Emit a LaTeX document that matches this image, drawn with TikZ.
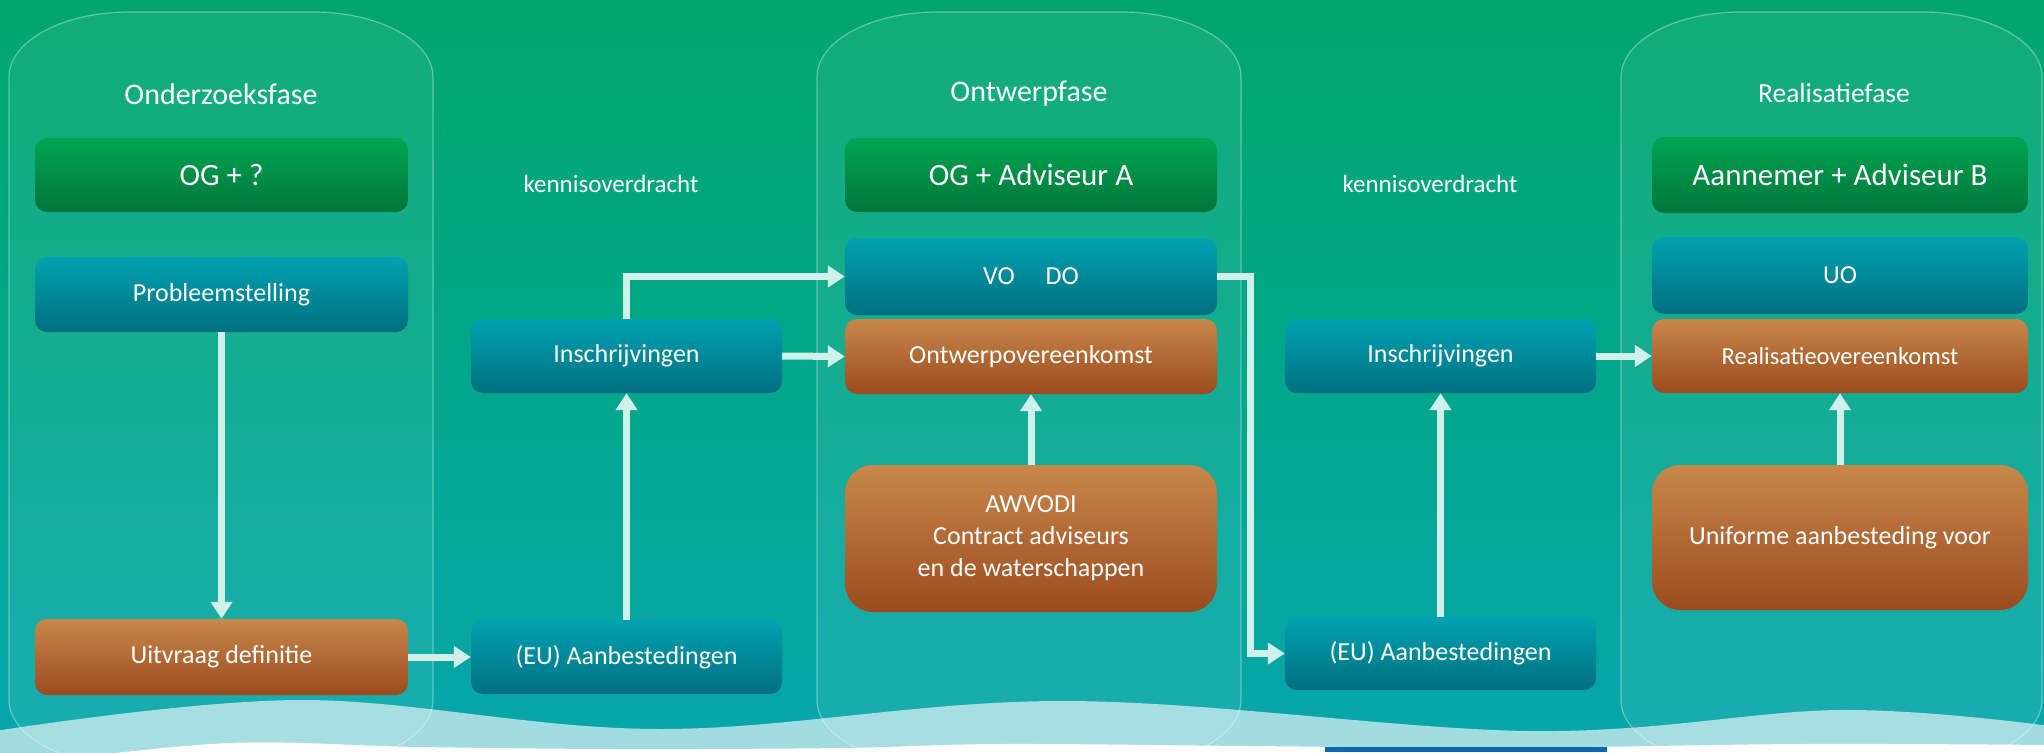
\documentclass[tikz,border=0pt]{standalone}
\usepackage{fontspec}
\setmainfont{Carlito}
\usetikzlibrary{arrows.meta}
\definecolor{bgtop}{RGB}{0,166,108}
\definecolor{bgmid}{RGB}{0,164,136}
\definecolor{bgbot}{RGB}{8,166,172}
\definecolor{grtop}{RGB}{0,165,82}
\definecolor{grbot}{RGB}{0,118,58}
\definecolor{bltop}{RGB}{0,162,178}
\definecolor{blbot}{RGB}{0,112,128}
\definecolor{ortop}{RGB}{200,135,75}
\definecolor{orbot}{RGB}{155,75,30}
\definecolor{arrowc}{RGB}{208,240,234}
\definecolor{wavec}{RGB}{160,220,224}
\definecolor{stripc}{RGB}{10,104,178}
\newcommand\phasepanel[4]{%
  \path[panelbg] (#1,{#2+65}) .. controls (#1,{#2+29}) and ({#1+54},#2) .. ({#1+120},#2)
    -- ({#3-120},#2) .. controls ({#3-54},#2) and (#3,{#2+29}) .. (#3,{#2+65})
    -- (#3,{#4-65}) .. controls (#3,{#4-29}) and ({#3-54},#4) .. ({#3-120},#4)
    -- ({#1+120},#4) .. controls ({#1+54},#4) and (#1,{#4-29}) .. (#1,{#4-65}) -- cycle;}
\tikzset{
  panelbg/.style={draw=white, draw opacity=0.35, fill=white, fill opacity=0.07, line width=1.2pt},
  box/.style={rounded corners=12pt, text=white, font=\fontsize{26}{32}\selectfont, inner sep=0pt, align=center},
  gbox/.style={box, top color=grtop, bottom color=grbot, font=\fontsize{31}{36}\selectfont},
  bbox/.style={box, top color=bltop, bottom color=blbot},
  obox/.style={box, top color=ortop, bottom color=orbot},
  title/.style={text=white, font=\fontsize{30}{36}\selectfont},
  ktext/.style={text=white, font=\fontsize{25}{30}\selectfont},
  flow/.style={draw=arrowc, line width=7pt, -{Triangle[width=21pt,length=17pt]}},
}
\begin{document}
\begin{tikzpicture}[x=1pt,y=-1pt]
\useasboundingbox (0,0) rectangle (2044,752);
\begin{scope}
\clip (0,0) rectangle (2044,752);
\shade[top color=bgtop, middle color=bgmid, bottom color=bgbot] (0,0) rectangle (2044,752);
% waves
\fill[wavec] plot[smooth, tension=0.6] coordinates {(-5,731) (300,700) (660,729) (1065,701) (1530,731) (1840,710) (2050,726)} -- (2050,760) -- (-5,760) -- cycle;
\fill[white] plot[smooth, tension=0.6] coordinates {(40,762) (230,743) (420,747) (620,749) (840,748) (1000,744) (1250,746) (1500,748) (1800,744) (2050,745)} -- (2050,765) -- (40,765) -- cycle;
\fill[stripc] (1325,747) rectangle (1607,752);
% panels
\phasepanel{9}{12}{433}{765}
\phasepanel{817}{12}{1241}{765}
\phasepanel{1621}{12}{2042}{765}
% titles
\node[title] (t1) at (221,94) {Onderzoeksfase};
\node[title] (t2) at (1029,94) {Ontwerpfase};
\node[text=white, font=\fontsize{27.5}{32}\selectfont] (t3) at (1834,93) {Realisatiefase};
\node[ktext] (k1) at (611,184) {kennisoverdracht};
\node[ktext] (k2) at (1430,184) {kennisoverdracht};
% panel 1
\node[gbox, minimum width=373pt, minimum height=74pt] (g1) at (221.5,175) {OG + ?};
\node[bbox, minimum width=373pt, minimum height=75pt] (prob) at (221.5,294.5) {Probleemstelling};
\node[obox, minimum width=373pt, minimum height=76pt] (uitv) at (221.5,657) {Uitvraag definitie};
% between 1 and 2
\node[bbox, minimum width=311pt, minimum height=74pt] (eu1) at (626.5,657) {(EU) Aanbestedingen};
\node[bbox, minimum width=311pt, minimum height=74pt] (insch1) at (626.5,356) {Inschrijvingen};
% panel 2
\node[gbox, minimum width=372pt, minimum height=74pt] (g2) at (1031,175) {OG + Adviseur A};
\node[bbox, minimum width=372pt, minimum height=77pt] (vodo) at (1031,276.5) {VO\hspace{31pt}DO};
\node[obox, minimum width=372pt, minimum height=75pt] (ontw) at (1031,356.5) {Ontwerpovereenkomst};
\node[obox, rounded corners=28pt, minimum width=372pt, minimum height=147pt] (awvodi) at (1031,538.5) {AWVODI\\Contract adviseurs\\en de waterschappen};
% between 2 and 3
\node[bbox, minimum width=311pt, minimum height=74pt] (insch2) at (1440.5,356) {Inschrijvingen};
\node[bbox, minimum width=311pt, minimum height=73pt] (eu2) at (1440.5,653.5) {(EU) Aanbestedingen};
% panel 3
\node[gbox, font=\fontsize{31}{36}\selectfont, minimum width=376pt, minimum height=76pt] (g3) at (1840,175) {Aannemer + Adviseur B};
\node[bbox, font=\fontsize{26}{30}\selectfont, minimum width=376pt, minimum height=77pt] (uo) at (1840,275.5) {UO};
\node[obox, font=\fontsize{24.5}{30}\selectfont, minimum width=376pt, minimum height=74pt] (real) at (1840,356) {Realisatieovereenkomst};
\node[obox, font=\fontsize{26}{30}\selectfont, rounded corners=28pt, minimum width=376pt, minimum height=145pt] (unif) at (1840,537.5) {Uniforme aanbesteding voor};
% connectors
\coordinate (bend) at (1250,276.5);
\draw[flow] (prob.south) -- (uitv.north);
\draw[flow] (uitv.east) -- (eu1.west);
\draw[flow] (eu1.north) -- (insch1.south);
\draw[flow] (insch1.north) |- (vodo.west);
\draw[flow] (insch1.east) -- (ontw.west);
\draw[flow] (awvodi.north) -- (ontw.south);
\draw[flow] (vodo.east) -- (bend) |- (eu2.west);
\draw[flow] (eu2.north) -- (insch2.south);
\draw[flow] (insch2.east) -- (real.west);
\draw[flow] (unif.north) -- (real.south);
\end{scope}
\end{tikzpicture}
\end{document}
